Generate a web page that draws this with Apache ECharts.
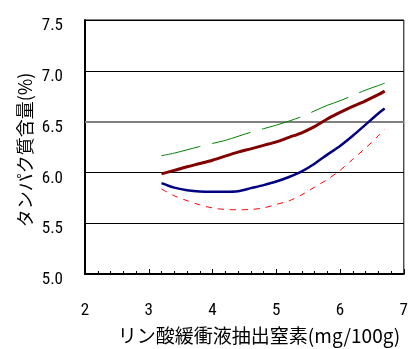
<!DOCTYPE html>
<html>
<head>
<meta charset="utf-8">
<script src="https://cdn.jsdelivr.net/npm/echarts@6/dist/echarts.min.js"></script>
<style>
html,body{margin:0;padding:0;background:#fff;}
#c{width:411px;height:349px;}
</style>
</head>
<body>
<div id="c"></div>
<script>
var xVals = [3.2,3.4,3.6,3.8,4.0,4.2,4.4,4.6,4.8,5.0,5.2,5.4,5.6,5.8,6.0,6.2,6.4,6.6,6.7];
var greenVals = [6.164,6.19,6.222,6.255,6.285,6.315,6.355,6.395,6.43,6.465,6.505,6.55,6.605,6.66,6.705,6.757,6.81,6.855,6.878];
var darkRedVals = [5.985,6.02,6.055,6.087,6.12,6.16,6.2,6.232,6.266,6.30,6.345,6.39,6.45,6.525,6.59,6.65,6.705,6.765,6.80];
var blueVals = [5.895,5.85,5.825,5.812,5.81,5.81,5.815,5.845,5.875,5.91,5.955,6.01,6.085,6.175,6.26,6.36,6.47,6.58,6.628];
var redVals = [5.836,5.77,5.722,5.68,5.65,5.635,5.632,5.635,5.65,5.685,5.72,5.78,5.855,5.93,6.02,6.13,6.24,6.36,6.426];
var yTicks = ['5.0','5.5','6.0','6.5','7.0','7.5'];
var xTitle = 'リン酸緩衝液抽出窒素(mg/100g)';
var yTitle = 'タンパク質含量(%)';

function pairs(ys){ return xVals.map(function(x,i){ return [x, ys[i]]; }); }

var numFont = "'Liberation Sans Narrow','Roboto Condensed','Liberation Sans',sans-serif";

var chart = echarts.init(document.getElementById('c'), null, {renderer:'canvas'});
chart.setOption({
  animation: false,
  grid: {left:85, top:20, right:5, bottom:75, show:true, borderColor:'#000', borderWidth:1, backgroundColor:'transparent'},
  graphic: [
    {type:'text', x:259, y:336, z:10,
     style:{text:xTitle, fill:'#000', font:"19px 'Noto Sans CJK JP',sans-serif", textAlign:'center', textVerticalAlign:'middle'}},
    {type:'text', x:25, y:150, rotation:Math.PI/2, z:10,
     style:{text:yTitle, fill:'#000', font:"18px 'Noto Sans CJK JP',sans-serif", textAlign:'center', textVerticalAlign:'middle'}}
  ],
  xAxis: {
    type:'value', min:2, max:7, interval:1,
    axisLine:{show:true, onZero:false, lineStyle:{color:'#000', width:2}},
    axisTick:{show:true, inside:true, length:5, lineStyle:{color:'#000', width:1}},
    minorTick:{show:true, splitNumber:5, length:3, lineStyle:{color:'#000', width:1}},
    splitLine:{show:false},
    axisLabel:{color:'#000', fontSize:17, fontFamily:numFont, margin:28}
  },
  yAxis: {
    type:'value', min:5, max:7.5, interval:0.5,
    axisLine:{show:true, lineStyle:{color:'#000', width:2}},
    axisTick:{show:false},
    splitLine:{show:true, lineStyle:{color:['#000','#000','#000','#808080','#000','#000'], width:1}},
    axisLabel:{color:'#000', fontSize:17, fontFamily:numFont, margin:22, verticalAlign:'top', lineHeight:12,
      formatter:function(v){ var i = Math.round((v-5)/0.5); return yTicks[i]; }}
  },
  series: [
    {type:'line', data:pairs(greenVals), showSymbol:false, smooth:0.3,
     lineStyle:{color:'#008000', width:1, type:[40,12]}, z:3,
     markLine:{silent:true, symbol:'none', label:{show:false},
       lineStyle:{color:'#808080', width:2, type:'solid'}, data:[{yAxis:6.5}], z:1}},
    {type:'line', data:pairs(darkRedVals), showSymbol:false, smooth:0.3,
     lineStyle:{color:'#800000', width:3, type:'solid'}, z:3},
    {type:'line', data:pairs(blueVals), showSymbol:false, smooth:0.3,
     lineStyle:{color:'#000080', width:2.5, type:'solid'}, z:3},
    {type:'line', data:pairs(redVals), showSymbol:false, smooth:0.3,
     lineStyle:{color:'#ff0000', width:1, type:[6,6]}, z:3}
  ]
});
</script>
</body>
</html>
